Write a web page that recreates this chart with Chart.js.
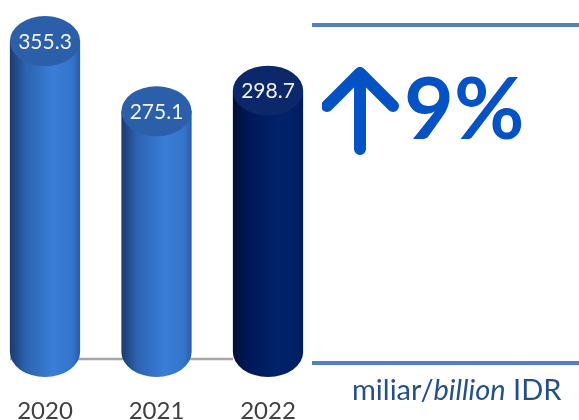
<!DOCTYPE html>
<html>
<head>
<meta charset="utf-8">
<script src="https://cdn.jsdelivr.net/npm/chart.js@4"></script>
<style>
  html, body { margin: 0; padding: 0; background: #fff; }
  #wrap { position: relative; width: 579px; height: 420px; overflow: hidden; }
  #chart { position: absolute; left: 0; top: 0; }
  .rule { position: absolute; left: 312px; width: 267px; height: 4px; background: #4f81bd; }
  #growth { position: absolute; left: 322px; top: 57px; }
  #pct {
    position: absolute; left: 404px; top: 63px;
    font: bold 86px Lato, sans-serif; color: #0452c4; line-height: 1;
  }
  #unit {
    position: absolute; left: 352px; top: 371px;
    font: 29px Lato, sans-serif; color: #234f8a; white-space: nowrap;
  }
</style>
</head>
<body>
<div id="wrap">
  <canvas id="chart" width="579" height="420"></canvas>
  <div class="rule" style="top:23px"></div>
  <div class="rule" style="top:361px"></div>
  <svg id="growth" width="80" height="100" viewBox="0 0 80 100">
    <path d="M38 92 L38 16 M5 49 L38 16 L71 49" fill="none" stroke="#0452c4"
          stroke-width="12" stroke-linecap="round" stroke-linejoin="round"/>
  </svg>
  <div id="pct">9%</div>
  <div id="unit">miliar/<i>billion</i> IDR</div>
</div>
<script>
'use strict';

// ── Data ──────────────────────────────────────────────────────────────────────

const years  = ['2020', '2021', '2022'];
const values = [355.3, 275.1, 298.7];
const bodyStops = [
  ['#1b3a6c', '#2c62b0', '#3a7ed8', '#3473c9', '#2a5ca6'],
  ['#1b3a6c', '#2c62b0', '#3a7ed8', '#3473c9', '#2a5ca6'],
  ['#000f36', '#00185a', '#00226a', '#002066', '#001a58'],
];
const capColors = ['#2b5fa9', '#2b5fa9', '#0c286a'];

// ── Cylinder plugin ───────────────────────────────────────────────────────────

const RY = 25;

const cylinders = {
  id: 'cylinders',
  beforeDatasetsDraw(chart) {
    const { ctx, chartArea } = chart;
    const meta = chart.getDatasetMeta(0);
    const first = meta.data[0], last = meta.data[meta.data.length - 1];
    ctx.save();
    ctx.strokeStyle = '#a6a6a6';
    ctx.lineWidth = 2.5;
    ctx.beginPath();
    ctx.moveTo(first.x - 35, chartArea.bottom + 7);
    ctx.lineTo(last.x - 35, chartArea.bottom + 7);
    ctx.stroke();
    ctx.restore();
  },
  afterDatasetsDraw(chart) {
    const { ctx } = chart;
    const meta = chart.getDatasetMeta(0);
    meta.data.forEach((bar, i) => {
      const { x, y, base, width } = bar.getProps(['x', 'y', 'base', 'width'], true);
      const rx = width / 2;
      ctx.save();

      // body
      const g = ctx.createLinearGradient(x - rx, 0, x + rx, 0);
      const st = bodyStops[i];
      g.addColorStop(0, st[0]);
      g.addColorStop(0.22, st[1]);
      g.addColorStop(0.62, st[2]);
      g.addColorStop(0.9, st[3]);
      g.addColorStop(1, st[4]);
      ctx.fillStyle = g;
      ctx.beginPath();
      ctx.moveTo(x - rx, y);
      ctx.lineTo(x - rx, base);
      ctx.ellipse(x, base, rx, RY, 0, Math.PI, 0, true);
      ctx.lineTo(x + rx, y);
      ctx.closePath();
      ctx.fill();

      // top cap
      ctx.fillStyle = capColors[i];
      ctx.beginPath();
      ctx.ellipse(x, y, rx, RY, 0, 0, Math.PI * 2);
      ctx.fill();

      // value
      ctx.fillStyle = '#f2f2f2';
      ctx.font = '21px Lato, sans-serif';
      ctx.textAlign = 'center';
      ctx.textBaseline = 'middle';
      ctx.fillText(values[i].toFixed(1), x, y + 1);
      ctx.restore();
    });
  },
};

// ── Chart ─────────────────────────────────────────────────────────────────────

new Chart(document.getElementById('chart'), {
  type: 'bar',
  data: {
    labels: years,
    datasets: [{
      data: values,
      backgroundColor: 'rgba(0,0,0,0)',
      borderWidth: 0,
      barPercentage: 0.63,
      categoryPercentage: 1,
      clip: false,
    }],
  },
  options: {
    responsive: false,
    animation: false,
    layout: { padding: { left: 45, right: 311, top: 2, bottom: 0 } },
    plugins: { legend: { display: false }, tooltip: { enabled: false } },
    scales: {
      x: {
        offset: false,
        border: { display: false },
        grid: { display: false, drawTicks: false },
        ticks: { color: '#404040', font: { family: 'Lato', size: 24 }, padding: 45, maxRotation: 0 },
        afterFit: s => { s.height = 68; s.paddingLeft = 0; s.paddingRight = 0; },
      },
      y: {
        display: false,
        min: 0, max: 400,
      },
    },
  },
  plugins: [cylinders],
});
</script>
</body>
</html>
